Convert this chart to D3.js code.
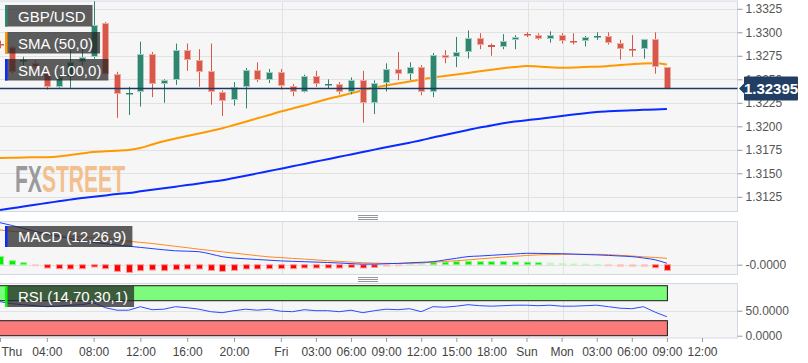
<!DOCTYPE html>
<html><head><meta charset="utf-8">
<script src="https://cdn.jsdelivr.net/npm/d3@7"></script>
<style>
html,body{margin:0;padding:0;background:#fff;}
svg{display:block;font-family:"Liberation Sans",Arial,sans-serif;}
</style></head><body>
<svg id="c" width="808" height="363"></svg>
<script>
// ---------- DATA (hourly candles, Thu 00:00 .. Mon 09:00) ----------
const open = [1.3288,1.3284,1.3270,1.3267,1.3257,1.3242,1.3252,1.3268,1.3274,1.3310,
1.3256,1.3234,1.3236,1.3277,1.3245,1.3249,1.3281,1.3271,1.3259,1.3236,
1.3228,1.3242,1.3260,1.3249,1.3258,1.3243,1.3237,1.3254,1.32445,1.3245,
1.3236,1.3249,1.3225,1.3246,1.3261,1.3256,1.3263,1.3237,1.3276,1.3274,
1.3279,1.3294,1.3286,1.3284,1.3292,1.3298,1.3297,1.3293,1.3297,1.32907,
1.3291,1.32957,1.3296,1.3289,1.32819,1.3282,1.3293,1.3263];
const high = [1.3291,1.3286,1.3274,1.3270,1.3258,1.3254,1.3281,1.3283,1.3333,1.3311,
1.3258,1.3242,1.3290,1.3279,1.3250,1.3288,1.3288,1.3282,1.3288,1.3238,
1.3247,1.3262,1.3268,1.3261,1.3261,1.3245,1.3255,1.3259,1.3250,1.3247,
1.3252,1.3259,1.3249,1.3267,1.3279,1.3268,1.3265,1.3278,1.3281,1.3295,
1.3302,1.3299,1.3288,1.3298,1.3297,1.3300,1.3299,1.3301,1.3299,1.3299,
1.3296,1.3300,1.3300,1.3292,1.3297,1.3293,1.3300,1.3263];
const low = [1.3283,1.3256,1.3265,1.3261,1.3239,1.3241,1.3241,1.3265,1.3272,1.3255,
1.3209,1.3212,1.3221,1.3231,1.3225,1.3244,1.3259,1.3242,1.3223,1.3211,
1.3222,1.3219,1.3247,1.3246,1.3239,1.3232,1.3236,1.3242,1.3240,1.3234,
1.3234,1.3204,1.3213,1.3237,1.3249,1.3249,1.3233,1.3231,1.3267,1.3263,
1.3272,1.3282,1.3275,1.3282,1.3282,1.3295,1.3292,1.3289,1.3288,1.3287,
1.3285,1.3292,1.3287,1.3271,1.3274,1.3272,1.3256,1.32395];
const close = [1.3286,1.3258,1.3271,1.3263,1.3242,1.3252,1.3268,1.3274,1.3308,1.3256,
1.3234,1.3235,1.3277,1.3245,1.3249,1.3281,1.3271,1.3258,1.3236,1.3227,
1.3242,1.3260,1.3249,1.3258,1.3243,1.3237,1.3254,1.3245,1.3245,1.3236,
1.3249,1.3225,1.3246,1.3261,1.3256,1.3263,1.3236,1.3276,1.3273,1.3279,
1.3294,1.3286,1.3284,1.3291,1.3295,1.3297,1.3293,1.3297,1.3291,1.3290,
1.3295,1.32964,1.3289,1.3282,1.3281,1.3293,1.3263,1.32395];
const sma50 = [1.31663,1.31665,1.31668,1.3167,1.31672,1.31679,1.31694,1.3171,1.31726,1.31734,
1.3174,1.31748,1.31769,1.31806,1.31841,1.3187,1.31897,1.31923,1.3195,1.31979,
1.32014,1.32049,1.32085,1.3212,1.32157,1.32189,1.32221,1.32256,1.3229,1.3232,
1.32351,1.32383,1.32413,1.32434,1.32455,1.32477,1.32498,1.32519,1.32535,1.32551,
1.32567,1.32585,1.32602,1.32618,1.32631,1.32641,1.32636,1.32629,1.32623,1.32625,
1.32631,1.32634,1.32641,1.32652,1.32661,1.32668,1.3267,1.32657];
const sma100 = [1.31109,1.31127,1.31147,1.31165,1.31184,1.31202,1.3122,1.31237,1.3125,1.31264,
1.3128,1.31291,1.31308,1.31325,1.31341,1.31358,1.31375,1.31391,1.31409,1.31426,
1.3145,1.31474,1.31499,1.31524,1.31549,1.31574,1.316,1.31625,1.3165,1.31675,
1.31701,1.31726,1.31752,1.31776,1.31801,1.31826,1.31851,1.31881,1.31907,1.31934,
1.3196,1.31987,1.32008,1.32032,1.3205,1.32064,1.32078,1.32093,1.32109,1.32125,
1.3214,1.32152,1.32159,1.32165,1.3217,1.32175,1.3218,1.32184];
const macdLine = [0.00084,0.000786,0.000726,0.000668,0.000612,0.000566,0.000522,0.000478,0.000446,0.00042,
0.000396,0.00037,0.000346,0.000322,0.000298,0.000278,0.00027,0.00026,0.000214,0.00016,
0.000132,0.000118,0.000104,0.00009,0.000076,0.000068,0.00006,0.000052,0.000044,0.000034,
0.000022,0.000012,0.000012,0.00002,0.000026,0.000038,0.000048,0.00006,0.000094,0.000128,
0.000162,0.000174,0.000188,0.000202,0.000214,0.000228,0.000226,0.000222,0.00022,0.000212,
0.000204,0.000196,0.000186,0.000174,0.000162,0.000134,0.000098,0.000028];
const macdSignal = [0.000694,0.00067,0.000648,0.000624,0.0006,0.000582,0.000568,0.000552,0.000536,0.000518,
0.000494,0.00047,0.000446,0.000424,0.000396,0.000368,0.00034,0.00031,0.000284,0.000258,
0.000232,0.000206,0.00018,0.000156,0.000142,0.000126,0.000112,0.000096,0.00008,0.000066,
0.000052,0.00004,0.000032,0.000026,0.000024,0.000026,0.000034,0.000048,0.000064,0.00008,
0.000096,0.000116,0.000134,0.000152,0.000168,0.000184,0.000196,0.000202,0.000206,0.000208,
0.000208,0.000208,0.0002,0.000188,0.000174,0.000158,0.000144,0.000128];
const macdHist = [0.000166,0.00008,0.00004,-0.000014,-0.000066,-0.00008,-0.000086,-0.00008,-0.000046,-0.00008,
-0.000134,-0.000154,-0.00012,-0.000106,-0.00012,-0.0001,-0.000086,-0.000086,-0.000114,-0.000134,
-0.000114,-0.000086,-0.000086,-0.00008,-0.00008,-0.00008,-0.000066,-0.000066,-0.000066,-0.000066,
-0.000054,-0.000066,-0.000054,-0.000034,-0.000014,0.000034,0.000034,0.00004,0.00005,0.00006,
0.000066,0.00006,0.00006,0.00006,0.000054,0.00005,0.00004,0.00003,0.00002,0.000014,
0.00001,0.000006,-0.00001,-0.000034,-0.000034,-0.000034,-0.00006,-0.000114];
const rsi = [68,64,62,60,58,59,61,62,66,56,
51,51,58,52,53,58,56,53,48,46,
50,53,51,53,49,48,52,50,50,48,
51,46,50,53,52,54,48,58,57,59,
62,60,59,60,61,61,60,61,59,59,
60,61,58,55,54,58,47,38];
const xTickIndex = [0,4,8,12,16,20,24,27,30,33,36,39,42,45,48,51,54,57,60];
const xTickLabels = ["Thu","04:00","08:00","12:00","16:00","20:00","Fri","03:00","06:00","09:00","12:00","15:00","18:00","Sun","Mon","03:00","06:00","09:00","12:00"];
const dayBreaks = [24,45,48];
const priceTicks = [1.3325,1.3300,1.3275,1.3250,1.3225,1.3200,1.3175,1.3150,1.3125];
const macdTicks = [0], macdTickLabels = ["-0.0000"];
const rsiTicks = [50,0], rsiTickLabels = ["50.0000","0.0000"];
const rsiBands = [[70,100],[0,30]];
const lastPrice = 1.32395;
const legendItems = [["GBP/USD","#2f8570"],["SMA (50,0)","#ff9900"],["SMA (100,0)","#0a2bff"]];

// ---------- LAYOUT ----------
const svg = d3.select("#c");
const R = 737.5;
const main = {top:1, bottom:211.5}, mp = {top:221.5, bottom:274.5}, rp = {top:283.5, bottom:338};
const x = d3.scaleLinear().domain([0,60]).range([0,702]);
const yP = d3.scaleLinear().domain([1.310936,1.333223]).range([211.5,2]);
const yM = d3.scaleLinear().domain([-0.000196,0.000864]).range([274.5,221.5]);
const yR = d3.scaleLinear().domain([0,100]).range([335.7,285.7]);
const idx = d3.range(open.length);
const GREEN="#2f8570", RED="#d6584a";

function pane(p){
  svg.append("rect").attr("x",-1).attr("y",p.top).attr("width",R+1).attr("height",p.bottom-p.top)
    .attr("fill","#f6f6f6").attr("stroke","#d3d8e6").attr("stroke-width",1);
  dayBreaks.forEach(d=>{
    svg.append("line").attr("x1",Math.round(x(d))+1.5).attr("x2",Math.round(x(d))+1.5)
      .attr("y1",p.top+0.5).attr("y2",p.bottom-0.5).attr("stroke","#e2e2e2");
  });
}
pane(main); pane(mp); pane(rp);

// horizontal grid
priceTicks.forEach(t=>svg.append("line").attr("x1",0).attr("x2",R).attr("y1",Math.round(yP(t))+0.5).attr("y2",Math.round(yP(t))+0.5).attr("stroke","#e2e2e2"));
svg.append("line").attr("x1",0).attr("x2",R).attr("y1",Math.round(yM(0))+0.5).attr("y2",Math.round(yM(0))+0.5).attr("stroke","#e2e2e2");
svg.append("line").attr("x1",0).attr("x2",R).attr("y1",Math.round(yR(50))+0.5).attr("y2",Math.round(yR(50))+0.5).attr("stroke","#e2e2e2");

// watermark (single text element, two coloured parts)
const wm = svg.append("text").attr("x",15).attr("y",192).attr("font-size",36).attr("font-weight","bold")
  .attr("textLength",110).attr("lengthAdjust","spacingAndGlyphs");
wm.append("tspan").attr("fill","#9a9a9c").text("FX");
wm.append("tspan").attr("fill","#f2c08e").text("STREET");

// SMA lines
const lineP = arr => d3.line().x(i=>x(i)).y(i=>yP(arr[i])).curve(d3.curveMonotoneX)(idx);
svg.append("path").attr("d",lineP(sma100)).attr("fill","none").attr("stroke","#0a2bff").attr("stroke-width",2);
svg.append("path").attr("d",lineP(sma50)).attr("fill","none").attr("stroke","#ff9900").attr("stroke-width",2);

// candles
const cg = svg.append("g");
idx.forEach(i=>{
  const up = close[i] >= open[i];
  const col = up?GREEN:RED, lite = up?"#9fcdbf":"#f1a9a0";
  const cx = Math.round(x(i));
  cg.append("line").attr("x1",cx+0.5).attr("x2",cx+0.5).attr("y1",yP(high[i])).attr("y2",yP(low[i])).attr("stroke",col);
  const y1 = Math.round(yP(Math.max(open[i],close[i]))), y2 = Math.round(yP(Math.min(open[i],close[i])));
  const h = y2-y1;
  if(h<3){
    cg.append("rect").attr("x",cx-3).attr("y",y1).attr("width",7).attr("height",Math.max(h,1.5)).attr("fill",col);
  } else {
    cg.append("rect").attr("x",cx-2.5).attr("y",y1+0.5).attr("width",6).attr("height",h-1)
      .attr("fill",col).attr("stroke",lite).attr("stroke-width",1);
  }
});

// last price line
const yl = Math.round(yP(lastPrice))-0.5;
svg.append("line").attr("x1",0).attr("x2",R).attr("y1",yl).attr("y2",yl).attr("stroke","#1f3a60").attr("stroke-width",1.3);

// legend boxes
legendItems.forEach((d,k)=>{
  const ty = 5 + k*27;
  const g = svg.append("g");
  const t = g.append("text").attr("x",18).attr("y",ty+16.5).attr("font-size",15).attr("fill","#fff").text(d[0]);
  const w = t.node().getComputedTextLength();
  g.insert("rect","text").attr("x",5).attr("y",ty).attr("width",w+20).attr("height",21.5).attr("fill","rgba(38,38,38,0.74)");
  g.insert("rect","text").attr("x",5).attr("y",ty).attr("width",2.5).attr("height",21.5).attr("fill",d[1]);
});

// MACD histogram
const z = yM(0);
idx.forEach(i=>{
  const v = macdHist[i];
  const strong = Math.abs(v) >= 0.000036;
  const fill = v>=0 ? (strong?"#00f000":"#a6f2a6") : (strong?"#ff0000":"#ffb2b2");
  const lite = v>=0 ? (strong?"#8af58a":"#c8f6c8") : (strong?"#ff9c9c":"#ffcccc");
  const cx = Math.round(x(i));
  const ya = Math.min(z,yM(v)), hb = Math.max(Math.abs(yM(v)-z),1.2);
  svg.append("rect").attr("x",cx-2.5).attr("y",ya).attr("width",6).attr("height",hb)
    .attr("fill",fill).attr("stroke",lite).attr("stroke-width",1);
});
const lineM = arr => d3.line().x(i=>x(i)).y(i=>yM(arr[i])).curve(d3.curveMonotoneX)(idx);
svg.append("path").attr("d",lineM(macdSignal)).attr("fill","none").attr("stroke","#ff8a1e").attr("stroke-width",1);
svg.append("path").attr("d",lineM(macdLine)).attr("fill","none").attr("stroke","#2040ff").attr("stroke-width",1);

// MACD label
(function(){
  const g = svg.append("g");
  const t = g.append("text").attr("x",18).attr("y",242).attr("font-size",15).attr("fill","#fff").text("MACD (12,26,9)");
  const w = t.node().getComputedTextLength();
  g.insert("rect","text").attr("x",5).attr("y",226).attr("width",w+19).attr("height",21).attr("fill","rgba(38,38,38,0.74)");
  g.insert("rect","text").attr("x",5).attr("y",226).attr("width",2.5).attr("height",21).attr("fill","#0a2bff");
})();

// RSI bands & line
rsiBands.forEach((b,k)=>{
  svg.append("rect").attr("x",-1).attr("y",yR(b[1])).attr("width",x(57)+1.5).attr("height",yR(b[0])-yR(b[1]))
    .attr("fill",k===0?"#7dfb7d":"#fb7b7b").attr("stroke","#1a1a1a").attr("stroke-width",1);
});
svg.append("path").attr("d",d3.line().x(i=>x(i)).y(i=>yR(rsi[i]))(idx)).attr("fill","none").attr("stroke","#2a4cff").attr("stroke-width",1);
(function(){
  const g = svg.append("g");
  const t = g.append("text").attr("x",18).attr("y",302).attr("font-size",15).attr("fill","#fff").text("RSI (14,70,30,1)");
  const w = t.node().getComputedTextLength();
  g.insert("rect","text").attr("x",5).attr("y",286).attr("width",w+19).attr("height",21).attr("fill","rgba(38,38,38,0.74)");
  g.insert("rect","text").attr("x",5).attr("y",286).attr("width",2.5).attr("height",21).attr("fill","#00ff00");
})();

// pane separators
[217.5, 279.5].forEach(cy=>{
  [-2,0,2].forEach(o=>svg.append("line").attr("x1",358).attr("x2",378).attr("y1",cy+o).attr("y2",cy+o).attr("stroke","#8a8a8a").attr("stroke-width",0.9));
});

// axes
function styleAxis(g){
  g.select(".domain").remove();
  g.selectAll(".tick line").attr("stroke","#9a9a9a");
  g.selectAll(".tick text").attr("fill","#555").attr("font-size",12).attr("font-family","Liberation Sans, Arial, sans-serif");
}
svg.append("g").attr("transform",`translate(${R},0)`)
  .call(d3.axisRight(yP).tickValues(priceTicks).tickFormat(d3.format(".4f")).tickSize(5).tickPadding(3)).call(styleAxis);
svg.append("g").attr("transform",`translate(${R},0)`)
  .call(d3.axisRight(yM).tickValues(macdTicks).tickFormat((d,i)=>macdTickLabels[i]).tickSize(5).tickPadding(3)).call(styleAxis);
svg.append("g").attr("transform",`translate(${R},0)`)
  .call(d3.axisRight(yR).tickValues(rsiTicks).tickFormat((d,i)=>rsiTickLabels[i]).tickSize(5).tickPadding(3)).call(styleAxis);
const xa = svg.append("g").attr("transform",`translate(0,${rp.bottom})`)
  .call(d3.axisBottom(x).tickValues(xTickIndex).tickFormat((d,i)=>xTickLabels[i]).tickSize(4).tickPadding(5)).call(styleAxis);
xa.selectAll(".tick text").attr("fill","#444");
xa.selectAll(".tick").filter(d=>d===0).select("text").attr("text-anchor","start").attr("x",1);

// last price label
(function(){
  const cy = yl;
  svg.append("path").attr("d",`M739,${cy} L744,${cy-5} L744,${cy-11} Q744,${cy-12} 745,${cy-12} L797,${cy-12} Q798,${cy-12} 798,${cy-11} L798,${cy+11} Q798,${cy+12} 797,${cy+12} L745,${cy+12} Q744,${cy+12} 744,${cy+11} L744,${cy+5} Z`)
    .attr("fill","#223f63");
  svg.append("text").attr("x",771).attr("y",cy+5.5).attr("text-anchor","middle").attr("font-size",15).attr("font-weight","bold").attr("fill","#fff").text(lastPrice.toFixed(5));
})();
</script>
</body></html>
